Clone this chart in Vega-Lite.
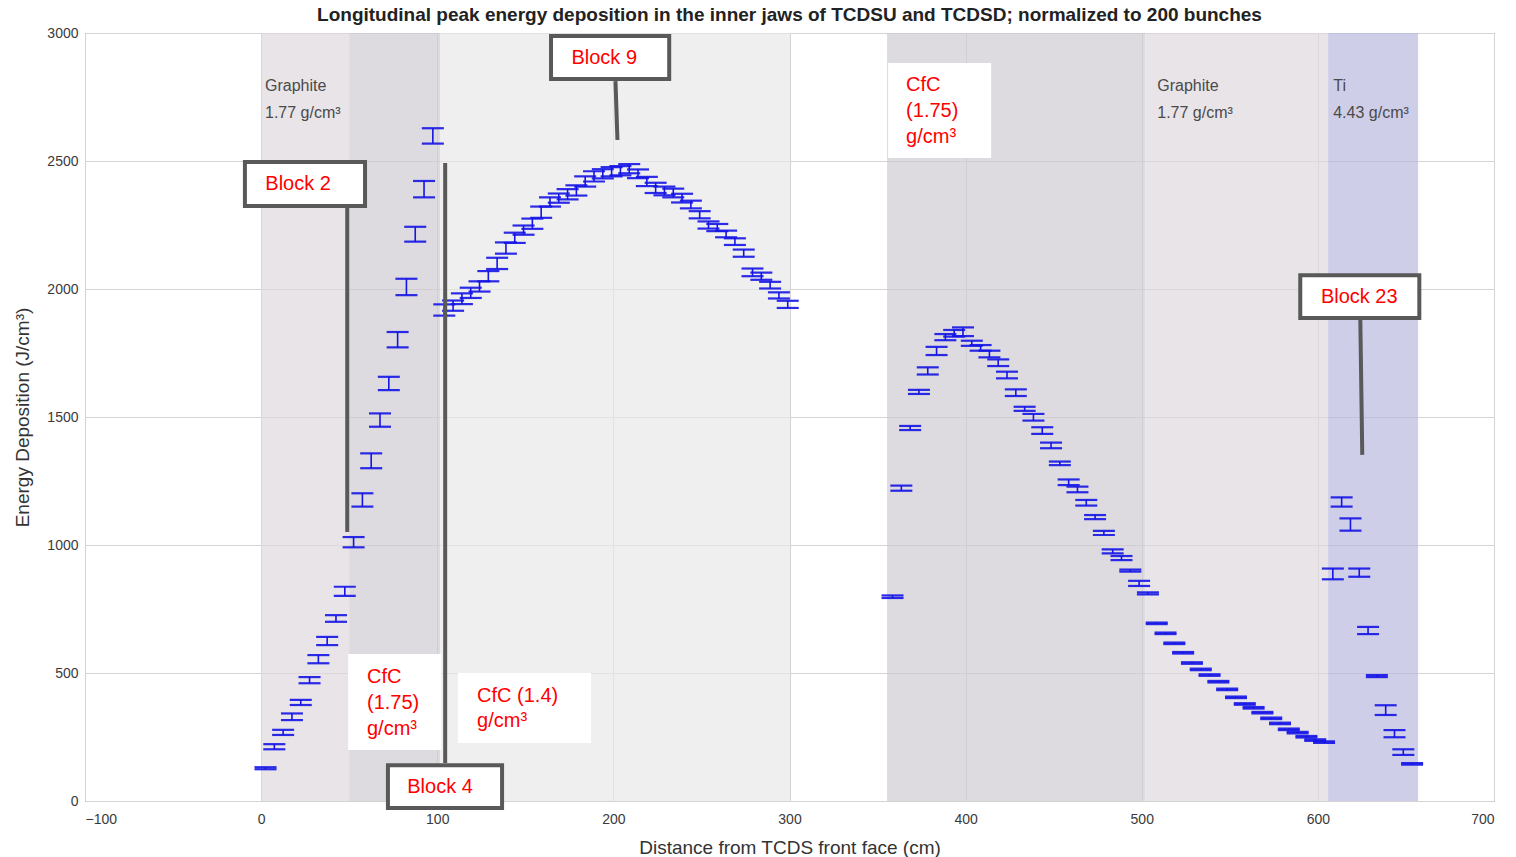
{
  "$schema": "https://vega.github.io/schema/vega-lite/v6.json",
  "autosize": {"type": "none"},
  "width": 1409,
  "height": 768,
  "padding": {"left": 85, "top": 33, "right": 22, "bottom": 56},
  "background": "white",
  "title": {"text": "Longitudinal peak energy deposition in the inner jaws of TCDSU and TCDSD; normalized to 200 bunches", "font": "Liberation Sans", "fontSize": 19, "fontWeight": "bold", "color": "#222222", "offset": 1, "anchor": "middle"},
  "config": {
    "view": {"stroke": "#8c8c8c", "strokeWidth": 1},
    "axis": {"labelFont": "Liberation Sans", "labelFontSize": 14, "labelColor": "#3a3a3a", "titleFont": "Liberation Sans", "titleFontSize": 19, "titleFontWeight": "normal", "titleColor": "#333333", "grid": true, "gridColor": "#d4d4d4", "gridWidth": 1, "domain": false, "ticks": false, "format": "d"}
  },
  "datasets": {
    "bands": [
      {"zone": "Graphite", "x0": 0, "x1": 50},
      {"zone": "CfC 1.75", "x0": 50, "x1": 101.7},
      {"zone": "CfC 1.4", "x0": 101.7, "x1": 300.3},
      {"zone": "CfC 1.75", "x0": 355.4, "x1": 502},
      {"zone": "Graphite", "x0": 502, "x1": 605.8},
      {"zone": "Ti", "x0": 605.8, "x1": 656.9}
    ],
    "points": [
      {"x": 2.5, "lo": 124, "hi": 132}, {"x": 7.5, "lo": 202, "hi": 222}, {"x": 12.5, "lo": 258, "hi": 278}, {"x": 17.5, "lo": 316, "hi": 342}, {"x": 22.5, "lo": 375, "hi": 395},
      {"x": 27.5, "lo": 460, "hi": 484}, {"x": 32.5, "lo": 538, "hi": 570}, {"x": 37.5, "lo": 609, "hi": 641}, {"x": 42.5, "lo": 700, "hi": 726}, {"x": 47.5, "lo": 801, "hi": 837},
      {"x": 52.5, "lo": 991, "hi": 1031}, {"x": 57.5, "lo": 1150, "hi": 1202}, {"x": 62.5, "lo": 1300, "hi": 1358}, {"x": 67.5, "lo": 1462, "hi": 1514}, {"x": 72.5, "lo": 1605, "hi": 1657},
      {"x": 77.5, "lo": 1772, "hi": 1832}, {"x": 82.5, "lo": 1976, "hi": 2040}, {"x": 87.5, "lo": 2185, "hi": 2243}, {"x": 92.5, "lo": 2358, "hi": 2422}, {"x": 97.5, "lo": 2568, "hi": 2628},
      {"x": 104, "lo": 1896, "hi": 1940}, {"x": 109, "lo": 1915, "hi": 1955}, {"x": 114, "lo": 1941, "hi": 1983}, {"x": 119, "lo": 1965, "hi": 2005}, {"x": 124, "lo": 1990, "hi": 2030},
      {"x": 129, "lo": 2030, "hi": 2070}, {"x": 134, "lo": 2078, "hi": 2122}, {"x": 139, "lo": 2138, "hi": 2182}, {"x": 144, "lo": 2180, "hi": 2220}, {"x": 149, "lo": 2212, "hi": 2248},
      {"x": 154, "lo": 2235, "hi": 2275}, {"x": 159, "lo": 2278, "hi": 2322}, {"x": 164, "lo": 2322, "hi": 2358}, {"x": 169, "lo": 2337, "hi": 2373}, {"x": 174, "lo": 2350, "hi": 2390},
      {"x": 179, "lo": 2365, "hi": 2405}, {"x": 184, "lo": 2400, "hi": 2440}, {"x": 189, "lo": 2420, "hi": 2460}, {"x": 194, "lo": 2432, "hi": 2468}, {"x": 199, "lo": 2440, "hi": 2476},
      {"x": 204, "lo": 2444, "hi": 2480}, {"x": 209, "lo": 2452, "hi": 2488}, {"x": 214, "lo": 2433, "hi": 2467}, {"x": 219, "lo": 2402, "hi": 2438}, {"x": 224, "lo": 2375, "hi": 2415},
      {"x": 229, "lo": 2366, "hi": 2400}, {"x": 234, "lo": 2358, "hi": 2392}, {"x": 239, "lo": 2338, "hi": 2372}, {"x": 244, "lo": 2315, "hi": 2345}, {"x": 249, "lo": 2276, "hi": 2304},
      {"x": 254, "lo": 2236, "hi": 2264}, {"x": 259, "lo": 2226, "hi": 2254}, {"x": 264, "lo": 2202, "hi": 2228}, {"x": 269, "lo": 2172, "hi": 2198}, {"x": 274, "lo": 2126, "hi": 2154},
      {"x": 279, "lo": 2050, "hi": 2080}, {"x": 284, "lo": 2036, "hi": 2064}, {"x": 289, "lo": 2002, "hi": 2028}, {"x": 294, "lo": 1963, "hi": 1987}, {"x": 299, "lo": 1926, "hi": 1954},
      {"x": 358.5, "lo": 793, "hi": 803}, {"x": 363.5, "lo": 1212, "hi": 1232}, {"x": 368.5, "lo": 1449, "hi": 1465}, {"x": 373.5, "lo": 1590, "hi": 1606}, {"x": 378.5, "lo": 1666, "hi": 1694},
      {"x": 383.5, "lo": 1742, "hi": 1774}, {"x": 388.5, "lo": 1800, "hi": 1824}, {"x": 393.5, "lo": 1814, "hi": 1840}, {"x": 398.5, "lo": 1816, "hi": 1850}, {"x": 403.5, "lo": 1778, "hi": 1798},
      {"x": 408.5, "lo": 1759, "hi": 1781}, {"x": 413.5, "lo": 1733, "hi": 1759}, {"x": 418.5, "lo": 1699, "hi": 1725}, {"x": 423.5, "lo": 1651, "hi": 1677}, {"x": 428.5, "lo": 1582, "hi": 1608},
      {"x": 433.5, "lo": 1524, "hi": 1540}, {"x": 438.5, "lo": 1486, "hi": 1512}, {"x": 443.5, "lo": 1434, "hi": 1460}, {"x": 448.5, "lo": 1378, "hi": 1400}, {"x": 453.5, "lo": 1312, "hi": 1326},
      {"x": 458.5, "lo": 1234, "hi": 1256}, {"x": 463.5, "lo": 1206, "hi": 1228}, {"x": 468.5, "lo": 1154, "hi": 1176}, {"x": 473.5, "lo": 1101, "hi": 1117}, {"x": 478.5, "lo": 1039, "hi": 1055},
      {"x": 483.5, "lo": 967, "hi": 983}, {"x": 488.5, "lo": 941, "hi": 957}, {"x": 493.5, "lo": 896, "hi": 904}, {"x": 498.5, "lo": 840, "hi": 860}, {"x": 503.5, "lo": 807, "hi": 815},
      {"x": 508.5, "lo": 691, "hi": 697}, {"x": 513.5, "lo": 652, "hi": 658}, {"x": 518.5, "lo": 613, "hi": 619}, {"x": 523.5, "lo": 576, "hi": 582}, {"x": 528.5, "lo": 536, "hi": 542},
      {"x": 533.5, "lo": 511, "hi": 517}, {"x": 538.5, "lo": 489, "hi": 495}, {"x": 543.5, "lo": 463, "hi": 469}, {"x": 548.5, "lo": 433, "hi": 439}, {"x": 553.5, "lo": 402, "hi": 408},
      {"x": 558.5, "lo": 376, "hi": 382}, {"x": 563.5, "lo": 361, "hi": 367}, {"x": 568.5, "lo": 342, "hi": 348}, {"x": 573.5, "lo": 320, "hi": 326}, {"x": 578.5, "lo": 300, "hi": 306},
      {"x": 583.5, "lo": 277, "hi": 283}, {"x": 588.5, "lo": 264, "hi": 270}, {"x": 593.5, "lo": 248, "hi": 254}, {"x": 598.5, "lo": 235, "hi": 241}, {"x": 603.5, "lo": 227, "hi": 233},
      {"x": 608.5, "lo": 866, "hi": 908}, {"x": 613.5, "lo": 1150, "hi": 1186}, {"x": 618.5, "lo": 1056, "hi": 1104}, {"x": 623.5, "lo": 876, "hi": 908}, {"x": 628.5, "lo": 652, "hi": 680},
      {"x": 633.5, "lo": 484, "hi": 492}, {"x": 638.5, "lo": 336, "hi": 374}, {"x": 643.5, "lo": 249, "hi": 277}, {"x": 648.5, "lo": 180, "hi": 202}, {"x": 653.5, "lo": 142, "hi": 148}
    ],
    "plainBoxes": [
      {"x0": 49.4, "x1": 102.2, "y0": 199, "y1": 574},
      {"x0": 111.7, "x1": 187.3, "y0": 227, "y1": 500},
      {"x0": 356, "x1": 414.5, "y0": 2512, "y1": 2883}
    ],
    "blockBoxes": [
      {"x0": -9.2, "x1": 59, "y0": 2324, "y1": 2496},
      {"x0": 164.6, "x1": 231.7, "y0": 2820, "y1": 2988},
      {"x0": 72, "x1": 136.8, "y0": -27, "y1": 140},
      {"x0": 590, "x1": 657.6, "y0": 1887, "y1": 2054}
    ],
    "connectors": [
      {"x": 48.9, "y": 2316, "x2": 48.9, "y2": 1051},
      {"x": 201.2, "y": 2812, "x2": 202.3, "y2": 2582},
      {"x": 104.5, "y": 148, "x2": 104.5, "y2": 2492},
      {"x": 624.1, "y": 1879, "x2": 625.2, "y2": 1352}
    ],
    "blockLabels": [
      {"label": "Block 2", "x": 21, "y": 2410},
      {"label": "Block 9", "x": 194.8, "y": 2902},
      {"label": "Block 4", "x": 101.6, "y": 55},
      {"label": "Block 23", "x": 623.5, "y": 1969}
    ],
    "cfcLabels": [
      {"label": "CfC", "x": 60.1, "y": 484},
      {"label": "(1.75)", "x": 60.1, "y": 383},
      {"label": "g/cm³", "x": 60.1, "y": 281},
      {"label": "CfC (1.4)", "x": 122.6, "y": 410},
      {"label": "g/cm³", "x": 122.6, "y": 312},
      {"label": "CfC", "x": 366.2, "y": 2797},
      {"label": "(1.75)", "x": 366.2, "y": 2695},
      {"label": "g/cm³", "x": 366.2, "y": 2594}
    ],
    "materialLabels": [
      {"label": "Graphite", "x": 2.2, "y": 2793},
      {"label": "1.77 g/cm³", "x": 2.2, "y": 2688},
      {"label": "Graphite", "x": 508.8, "y": 2793},
      {"label": "1.77 g/cm³", "x": 508.8, "y": 2688},
      {"label": "Ti", "x": 608.7, "y": 2793},
      {"label": "4.43 g/cm³", "x": 608.7, "y": 2688}
    ]
  },
  "layer": [
    {
      "data": {"name": "bands"},
      "mark": {"type": "rect", "opacity": 0.7},
      "encoding": {
        "x": {"field": "x0", "type": "quantitative", "scale": {"domain": [-100, 700], "nice": false, "zero": false}, "axis": {"values": [-100, 0, 100, 200, 300, 400, 500, 600, 700], "title": "Distance from TCDS front face (cm)", "labelPadding": 11, "titlePadding": 12}},
        "x2": {"field": "x1"},
        "y": {"datum": 0, "type": "quantitative", "scale": {"domain": [0, 3000], "nice": false, "zero": false}, "axis": {"values": [0, 500, 1000, 1500, 2000, 2500, 3000], "title": "Energy Deposition (J/cm³)", "labelPadding": 7, "titlePadding": 14}},
        "y2": {"datum": 3000},
        "color": {"field": "zone", "type": "nominal", "legend": null, "scale": {"domain": ["Graphite", "CfC 1.75", "CfC 1.4", "Ti"], "range": ["#ded8de", "#cfccd1", "#e8e8e8", "#bbb9df"]}}
      }
    },
    {
      "data": {"name": "points"},
      "mark": {"type": "rule", "color": "#1414e6", "strokeWidth": 1.6},
      "encoding": {
        "x": {"field": "x", "type": "quantitative"},
        "y": {"field": "lo", "type": "quantitative"},
        "y2": {"field": "hi"}
      }
    },
    {
      "data": {"name": "points"},
      "mark": {"type": "tick", "orient": "horizontal", "color": "#1414e6", "size": 22, "thickness": 2.2, "opacity": 0.9},
      "encoding": {
        "x": {"field": "x", "type": "quantitative"},
        "y": {"field": "lo", "type": "quantitative"}
      }
    },
    {
      "data": {"name": "points"},
      "mark": {"type": "tick", "orient": "horizontal", "color": "#1414e6", "size": 22, "thickness": 2.2, "opacity": 0.9},
      "encoding": {
        "x": {"field": "x", "type": "quantitative"},
        "y": {"field": "hi", "type": "quantitative"}
      }
    },
    {
      "data": {"name": "plainBoxes"},
      "mark": {"type": "rect", "fill": "white"},
      "encoding": {
        "x": {"field": "x0", "type": "quantitative"},
        "x2": {"field": "x1"},
        "y": {"field": "y0", "type": "quantitative"},
        "y2": {"field": "y1"}
      }
    },
    {
      "data": {"name": "connectors"},
      "mark": {"type": "rule", "color": "#595959", "strokeWidth": 4},
      "encoding": {
        "x": {"field": "x", "type": "quantitative"},
        "y": {"field": "y", "type": "quantitative"},
        "x2": {"field": "x2"},
        "y2": {"field": "y2"}
      }
    },
    {
      "data": {"name": "blockBoxes"},
      "mark": {"type": "rect", "fill": "white", "stroke": "#595959", "strokeWidth": 4},
      "encoding": {
        "x": {"field": "x0", "type": "quantitative"},
        "x2": {"field": "x1"},
        "y": {"field": "y0", "type": "quantitative"},
        "y2": {"field": "y1"}
      }
    },
    {
      "data": {"name": "blockLabels"},
      "mark": {"type": "text", "color": "#ff0000", "font": "Liberation Sans", "fontSize": 20, "align": "center", "baseline": "middle"},
      "encoding": {
        "x": {"field": "x", "type": "quantitative"},
        "y": {"field": "y", "type": "quantitative"},
        "text": {"field": "label"}
      }
    },
    {
      "data": {"name": "cfcLabels"},
      "mark": {"type": "text", "color": "#ff0000", "font": "Liberation Sans", "fontSize": 20, "align": "left", "baseline": "middle"},
      "encoding": {
        "x": {"field": "x", "type": "quantitative"},
        "y": {"field": "y", "type": "quantitative"},
        "text": {"field": "label"}
      }
    },
    {
      "data": {"name": "materialLabels"},
      "mark": {"type": "text", "color": "#4a4a4a", "font": "Liberation Sans", "fontSize": 16, "align": "left", "baseline": "middle"},
      "encoding": {
        "x": {"field": "x", "type": "quantitative"},
        "y": {"field": "y", "type": "quantitative"},
        "text": {"field": "label"}
      }
    }
  ]
}
